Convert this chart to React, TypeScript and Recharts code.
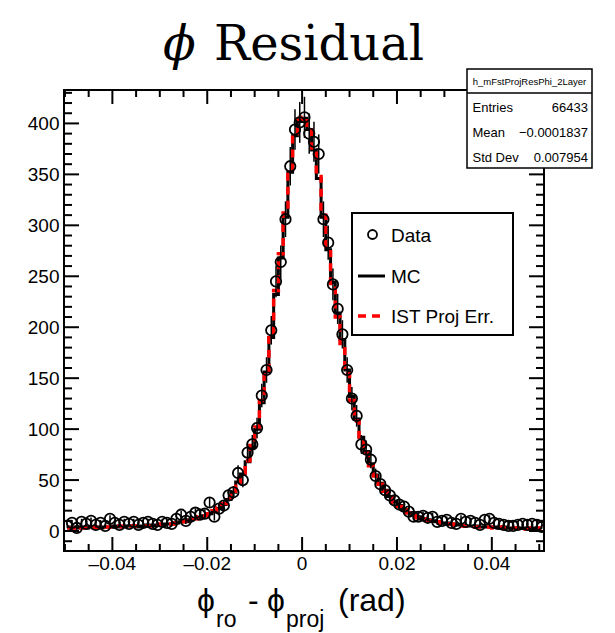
import React from 'react'
import { ComposedChart, Line, Scatter, ErrorBar, XAxis, YAxis, ReferenceArea } from 'recharts'

// bin centres of the residual histogram (rad)
const binCenters = [
  -0.0495, -0.0485, -0.0475, -0.0465, -0.0455, -0.0445, -0.0435, -0.0425, -0.0415, -0.0405,
  -0.0395, -0.0385, -0.0375, -0.0365, -0.0355, -0.0345, -0.0335, -0.0325, -0.0315, -0.0305,
  -0.0295, -0.0285, -0.0275, -0.0265, -0.0255, -0.0245, -0.0235, -0.0225, -0.0215, -0.0205,
  -0.0195, -0.0185, -0.0175, -0.0165, -0.0155, -0.0145, -0.0135, -0.0125, -0.0115, -0.0105,
  -0.0095, -0.0085, -0.0075, -0.0065, -0.0055, -0.0045, -0.0035, -0.0025, -0.0015, -0.0005,
  0.0005, 0.0015, 0.0025, 0.0035, 0.0045, 0.0055, 0.0065, 0.0075, 0.0085, 0.0095,
  0.0105, 0.0115, 0.0125, 0.0135, 0.0145, 0.0155, 0.0165, 0.0175, 0.0185, 0.0195,
  0.0205, 0.0215, 0.0225, 0.0235, 0.0245, 0.0255, 0.0265, 0.0275, 0.0285, 0.0295,
  0.0305, 0.0315, 0.0325, 0.0335, 0.0345, 0.0355, 0.0365, 0.0375, 0.0385, 0.0395,
  0.0405, 0.0415, 0.0425, 0.0435, 0.0445, 0.0455, 0.0465, 0.0475, 0.0485, 0.0495,
  0.0505,
]

const dataCounts = [
  5, 8, 3, 9, 7, 10, 6, 8, 5, 12,
  8, 6, 9, 7, 9, 6, 8, 9, 7, 6,
  9, 8, 7, 12, 16, 10, 14, 18, 16, 17,
  28, 14, 22, 25, 35, 38, 57, 50, 77, 85,
  101, 133, 158, 197, 245, 264, 306, 358, 394, 401,
  406, 390, 382, 370, 306, 283, 242, 218, 193, 158,
  130, 113, 85, 80, 70, 54, 46, 40, 35, 30,
  26, 24, 19, 14, 14, 15, 13, 14, 9, 10,
  11, 8, 7, 12, 9, 10, 8, 6, 11, 12,
  8, 7, 6, 5, 5, 6, 7, 6, 7, 6,
  4,
]

const mcCounts = [
  3, 4, 3, 4, 3, 4, 4, 3, 4, 4,
  5, 4, 4, 5, 5, 4, 5, 6, 5, 6,
  6, 7, 7, 8, 9, 9, 11, 12, 13, 15,
  17, 19, 22, 26, 31, 38, 48, 56, 68, 82,
  100, 126, 156, 190, 232, 268, 308, 352, 388, 402,
  405, 394, 374, 346, 308, 276, 244, 214, 188, 158,
  132, 110, 92, 78, 66, 55, 47, 40, 34, 29,
  25, 21, 18, 16, 14, 12, 11, 10, 9, 8,
  8, 7, 6, 6, 5, 5, 5, 4, 4, 4,
  4, 3, 4, 3, 3, 3, 3, 3, 2, 3,
  3,
]

const istCounts = [
  3, 3, 4, 3, 3, 4, 3, 4, 4, 4,
  4, 5, 4, 5, 5, 5, 5, 5, 6, 6,
  7, 7, 7, 8, 9, 10, 11, 12, 14, 15,
  17, 20, 23, 27, 32, 39, 47, 57, 69, 84,
  102, 128, 158, 192, 236, 272, 312, 355, 390, 404,
  406, 396, 376, 348, 310, 274, 240, 210, 184, 154,
  128, 108, 90, 76, 64, 54, 46, 39, 33, 28,
  24, 21, 18, 15, 13, 12, 10, 9, 9, 8,
  7, 7, 6, 5, 5, 5, 4, 4, 4, 4,
  3, 4, 3, 3, 3, 3, 3, 2, 3, 3,
  3,
]

const xTicks = [
  -0.05, -0.045, -0.04, -0.035, -0.03, -0.025, -0.02, -0.015, -0.01, -0.005, 0,
  0.005, 0.01, 0.015, 0.02, 0.025, 0.03, 0.035, 0.04, 0.045, 0.05,
]
const xMajor = [-0.04, -0.02, 0, 0.02, 0.04]
const yTicks = [
  -10, 0, 10, 20, 30, 40, 50, 60, 70, 80, 90, 100, 110, 120, 130, 140, 150, 160, 170, 180,
  190, 200, 210, 220, 230, 240, 250, 260, 270, 280, 290, 300, 310, 320, 330, 340, 350, 360,
  370, 380, 390, 400, 410, 420, 430,
]
const yMajor = [0, 50, 100, 150, 200, 250, 300, 350, 400]

const xDomain = [-0.0502, 0.051]
const yDomain = [-19.6, 432.8]

const PW = 480
const PH = 461
const SANS = '"Liberation Sans", Arial, Helvetica, sans-serif'

const rows = binCenters.map((x, i) => ({
  x,
  data: dataCounts[i],
  err: Math.sqrt(dataCounts[i]),
  mc: mcCounts[i],
  ist: istCounts[i],
}))

const fmtX = (v: number) => (Math.abs(v) < 1e-9 ? '0' : (v < 0 ? '\u2013' : '') + Math.abs(v).toFixed(2))

const XTick = ({ x, y, payload }: any) => {
  const v = payload.value
  const major = xMajor.some((m) => Math.abs(m - v) < 1e-9)
  const len = major ? 14 : 7
  return (
    <g>
      <line x1={x} y1={y} x2={x} y2={y - len} stroke="#000" strokeWidth={2} />
      <line x1={x} y1={y - PH} x2={x} y2={y - PH + len} stroke="#000" strokeWidth={2} />
      {major && (
        <text x={x} y={y + 19} textAnchor="middle" fontFamily={SANS} fontSize={19} fill="#000">
          {fmtX(v)}
        </text>
      )}
    </g>
  )
}

const YTick = ({ x, y, payload }: any) => {
  const v = payload.value
  const major = yMajor.includes(v)
  const len = major ? 15 : 8
  return (
    <g>
      <line x1={x} y1={y} x2={x + len} y2={y} stroke="#000" strokeWidth={2} />
      <line x1={x + PW} y1={y} x2={x + PW - len} y2={y} stroke="#000" strokeWidth={2} />
      {major && (
        <text x={x - 4.5} y={y + 7} textAnchor="end" fontFamily={SANS} fontSize={19} fill="#000">
          {v}
        </text>
      )}
    </g>
  )
}

const Marker = ({ cx, cy }: any) => (
  <circle cx={cx} cy={cy} r={5.2} fill="none" stroke="#000" strokeWidth={1.8} />
)

const Overlay = () => (
  <svg
    width={615}
    height={633}
    style={{ position: 'absolute', left: 0, top: 0, pointerEvents: 'none' }}
  >
    {/* title */}
    <text x={163} y={60} fontFamily='"DejaVu Serif", "Liberation Serif", serif' fontSize={48} fontStyle="italic" fill="#000">
      ϕ
    </text>
    <text x={214} y={60} fontFamily='"DejaVu Serif", "Liberation Serif", serif' fontSize={48} fill="#000">
      Residual
    </text>

    {/* x axis title */}
    <g fontFamily={SANS} fill="#000">
      <text x={197} y={611} fontSize={32}>ϕ</text>
      <text x={216} y={627} fontSize={23}>ro</text>
      <text x={248} y={611} fontSize={32}>-</text>
      <text x={267} y={611} fontSize={32}>ϕ</text>
      <text x={286} y={627} fontSize={23}>proj</text>
      <text x={338} y={611} fontSize={32}>(rad)</text>
    </g>

    {/* stats box */}
    <rect x={467} y={69} width={125} height={99} fill="#fff" stroke="#000" strokeWidth={1.5} />
    <line x1={467} y1={93} x2={592} y2={93} stroke="#000" strokeWidth={1.5} />
    <g fontFamily={SANS} fill="#000">
      <text x={529.5} y={84.5} fontSize={9.5} textAnchor="middle">h_mFstProjResPhi_2Layer</text>
      <text x={472.5} y={112} fontSize={13}>Entries</text>
      <text x={588} y={112} fontSize={13} textAnchor="end">66433</text>
      <text x={472.5} y={137} fontSize={13}>Mean</text>
      <text x={588} y={137} fontSize={13} textAnchor="end">{'\u22120.0001837'}</text>
      <text x={472.5} y={161.5} fontSize={13}>Std Dev</text>
      <text x={588} y={161.5} fontSize={13} textAnchor="end">0.007954</text>
    </g>

    {/* legend */}
    <rect x={352} y={213} width={161} height={122} fill="#fff" stroke="#000" strokeWidth={2} />
    <circle cx={372.5} cy={234.5} r={4.5} fill="none" stroke="#000" strokeWidth={1.8} />
    <line x1={358} y1={276} x2={385} y2={276} stroke="#000" strokeWidth={3} />
    <line x1={358} y1={316} x2={386} y2={316} stroke="#ff0000" strokeWidth={3.5} strokeDasharray="8 6" />
    <g fontFamily={SANS} fontSize={19} fill="#000">
      <text x={391} y={241.5}>Data</text>
      <text x={391} y={283}>MC</text>
      <text x={391} y={323}>IST Proj Err.</text>
    </g>
  </svg>
)

export default function App() {
  return (
    <div style={{ position: 'absolute', left: 0, top: 0, width: 615, height: 633, background: '#fff' }}>
      <ComposedChart
        width={615}
        height={633}
        data={rows}
        margin={{ top: 90, right: 71, bottom: 52, left: 24 }}
      >
        <XAxis
          dataKey="x"
          type="number"
          domain={xDomain}
          allowDataOverflow
          ticks={xTicks}
          interval={0}
          height={30}
          axisLine={false}
          tickLine={false}
          tickSize={0}
          tickMargin={0}
          tick={(p: any) => <XTick {...p} />}
        />
        <YAxis
          type="number"
          domain={yDomain}
          allowDataOverflow
          ticks={yTicks}
          interval={0}
          width={40}
          axisLine={false}
          tickLine={false}
          tickSize={0}
          tickMargin={0}
          tick={(p: any) => <YTick {...p} />}
        />
        <Line
          type="step"
          dataKey="mc"
          stroke="#000"
          strokeWidth={3}
          dot={false}
          isAnimationActive={false}
        />
        <Line
          type="step"
          dataKey="ist"
          stroke="#ff0000"
          strokeWidth={3.5}
          strokeDasharray="8 6"
          dot={false}
          isAnimationActive={false}
        />
        <Scatter dataKey="data" shape={<Marker />} isAnimationActive={false}>
          <ErrorBar dataKey="err" direction="y" width={0} stroke="#000" strokeWidth={1.5} />
        </Scatter>
        <ReferenceArea
          x1={xDomain[0]}
          x2={xDomain[1]}
          y1={yDomain[0]}
          y2={yDomain[1]}
          fill="none"
          stroke="#000"
          strokeWidth={2}
          fillOpacity={0}
        />
      </ComposedChart>
      <Overlay />
    </div>
  )
}
